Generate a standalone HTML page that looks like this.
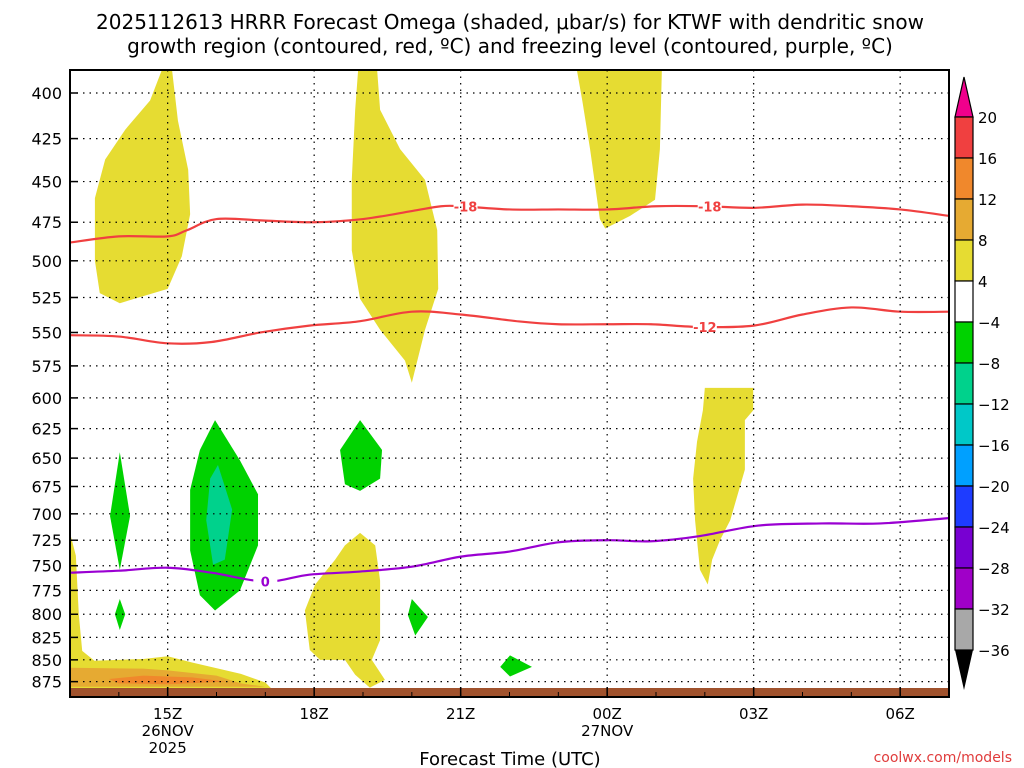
<!DOCTYPE html>
<html><head><meta charset="utf-8"><style>
body{margin:0;background:#fff;}
svg{display:block;font-family:"DejaVu Sans","Liberation Sans",sans-serif;}
</style></head><body>
<svg id="c" width="1024" height="768" viewBox="0 0 1024 768">
<text x="510" y="29" text-anchor="middle" font-size="20">2025112613 HRRR Forecast Omega (shaded, μbar/s) for KTWF with dendritic snow</text>
<text x="510" y="53" text-anchor="middle" font-size="20">growth region (contoured, red, ºC) and freezing level (contoured, purple, ºC)</text>
<g id="plot"></g>
<text x="510" y="765" text-anchor="middle" font-size="18">Forecast Time (UTC)</text>
<text x="1012" y="762" text-anchor="end" font-size="14" fill="#e03c3c">coolwx.com/models</text>
</svg>
<script>
const pLevels=[400,425,450,475,500,525,550,575,600,625,650,675,700,725,750,775,800,825,850,875];
const xTickHours=[15,18,21,24,27,30];
const xTickLabels=[["15Z","26NOV","2025"],["18Z"],["21Z"],["00Z","27NOV"],["03Z"],["06Z"]];
const cbLabels=["20","16","12","8","4","−4","−8","−12","−16","−20","−24","−28","−32","−36"];
const cbColors=["#f04040","#f0882c","#e6aa32","#e6dc32","#ffffff","#00d200","#00d28c","#00c8c8","#00a0ff","#1e3cff","#7800d2","#a000c8","#a8a8a8"];
const line18H=[13,14,15,15.4,16,17,18,19,20,20.6,21,22,23,24,25,26,27,28,29,30,31];
const line18P=[488,484,484,480,473,474,475,473,468,465,465,467,467,467,465,465,466,464,465,467,471];
const line12H=[13,14,15,15.9,16.9,17.9,18.9,20,21,22.2,23,24,24.9,25.9,27,28,29,30,31];
const line12P=[552,553,558,557,550,545,542,535,537,542,544,544,544,546,545,537,532,535,535];
const line0H=[13,14,15,15.9,17,17.9,18.9,20,21,22,23,24,24.9,25.9,27.1,28.4,29.6,31];
const line0P=[757,755,752,757,766,759,756,751,741,736,727,725,726,721,711,709,709,704];
const yellowBlobs=[
[[15.09,388],[15.21,415],[15.42,443],[15.46,470],[15.29,497],[15.0,519],[14.02,529],[13.61,522],[13.51,500],[13.51,460],[13.72,437],[14.13,420],[14.64,404],[14.88,388]],
[[18.9,388],[19.29,388],[19.35,409],[19.76,431],[20.27,449],[20.52,480],[20.54,519],[20.27,548],[20.0,588],[19.86,571],[19.35,548],[18.94,526],[18.77,493],[18.77,449],[18.84,409]],
[[23.38,388],[25.12,388],[25.08,431],[24.98,461],[24.47,471],[23.96,479],[23.85,473],[23.65,431],[23.49,404]],
[[26.0,592],[26.99,592],[26.99,610],[26.82,618],[26.82,660],[26.52,706],[26.31,725],[26.15,744],[26.06,769],[25.9,754],[25.8,706],[25.76,668],[25.84,636],[25.96,610]],
[[18.94,718],[19.25,730],[19.35,765],[19.35,828],[19.18,850],[19.45,873],[19.14,882],[18.84,867],[18.63,850],[18.12,850],[17.91,839],[17.81,796],[18.02,769],[18.43,744],[18.63,730]],
[[13,718],[13.12,740],[13.18,800],[13.25,840],[13.5,851],[14.5,849],[15.0,846],[15.5,853],[16.5,866],[17.0,876],[17.3,893],[13,893]],
[[29.5,893],[29.5,885],[30.3,885],[30.3,893]]
];
const orangeBlobs=[[[13,859],[14.5,860],[15.0,862],[16,868],[16.5,877],[17,881],[13,881]],[[27.2,893],[27.3,884],[28.0,884],[28.2,893]]];
const darkOrangeBlobs=[[[13.8,872],[14.5,868],[15.5,870],[16.2,875],[15,878],[14,877]]];
const greenBlobs=[
[[14.02,645],[14.23,702],[14.02,754],[13.82,702]],
[[14.02,784],[14.13,800],[14.02,817],[13.92,800]],
[[15.97,618],[16.48,652],[16.85,682],[16.85,730],[16.48,775],[15.97,796],[15.66,780],[15.46,735],[15.46,678],[15.66,643]],
[[18.94,618],[19.39,643],[19.35,668],[18.94,679],[18.63,673],[18.53,643]],
[[20.0,784],[20.33,803],[20.07,823],[19.92,801]],
[[22.01,845],[22.46,858],[22.01,869],[21.81,858]]
];
const tealBlobs=[[[16.03,656],[16.32,696],[16.17,744],[15.93,749],[15.79,706],[15.87,668]]];

const X0=70,X1=949,Y0=70,Y1=697,H0=13,H1=31;
const xs=h=>X0+(h-H0)*(X1-X0)/(H1-H0);
const ys=p=>93+752*Math.log(p/400);
const NS="http://www.w3.org/2000/svg";
const svg=document.getElementById('c');
const plot=document.getElementById('plot');
function mk(tag,attrs,parent){const e=document.createElementNS(NS,tag);for(const k in attrs)e.setAttribute(k,attrs[k]);(parent||plot).appendChild(e);return e;}
const clip=mk('clipPath',{id:'clp'},svg);mk('rect',{x:X0,y:Y0,width:X1-X0,height:Y1-Y0},clip);
const g=mk('g',{'clip-path':'url(#clp)'});
function poly(list,color,name){list.forEach(pts=>{const e=mk('polygon',{points:pts.map(q=>xs(q[0])+','+ys(q[1])).join(' '),fill:color},g);

});}
poly(yellowBlobs,cbColors[3],'omega-4-8-region');
poly(orangeBlobs,cbColors[2],'omega-8-12-region');
poly(darkOrangeBlobs,cbColors[1],'omega-12-16-region');
poly(greenBlobs,cbColors[5],'omega-neg4-neg8-region');
poly(tealBlobs,cbColors[6],'omega-neg8-neg12-region');
const ground=mk('rect',{x:X0,y:688,width:X1-X0,height:10,fill:'#a0522d'},g);


pLevels.forEach(p=>{const l=mk('line',{x1:X0,x2:X1,y1:ys(p),y2:ys(p),stroke:'#000','stroke-width':1.2,'stroke-dasharray':'1.5 5'});


mk('line',{x1:X0,x2:X0+8,y1:ys(p),y2:ys(p),stroke:'#000','stroke-width':1.5});
const t=mk('text',{x:62,y:ys(p)+6,'text-anchor':'end','font-size':16});t.textContent=p;

});
xTickHours.forEach((h,i)=>{const l=mk('line',{x1:xs(h),x2:xs(h),y1:Y0,y2:Y1,stroke:'#000','stroke-width':1.2,'stroke-dasharray':'1.5 5'});


mk('line',{x1:xs(h),x2:xs(h),y1:Y1-10,y2:Y1,stroke:'#000','stroke-width':1.5});
xTickLabels[i].forEach((s,j)=>{const t=mk('text',{x:xs(h),y:719+j*17,'text-anchor':'middle','font-size':15});t.textContent=s;

});});
for(let h=H0+1;h<H1;h++){mk('line',{x1:xs(h),x2:xs(h),y1:Y1-5,y2:Y1,stroke:'#000','stroke-width':1});}
function cline(H,P,color,name,labels){
const pts=H.map((h,i)=>[xs(h),ys(P[i])]);
let d='M'+pts[0][0]+','+pts[0][1];
for(let i=0;i<pts.length-1;i++){const p0=pts[Math.max(0,i-1)],p1=pts[i],p2=pts[i+1],p3=pts[Math.min(pts.length-1,i+2)];
d+='C'+(p1[0]+(p2[0]-p0[0])/6)+','+(p1[1]+(p2[1]-p0[1])/6)+' '+(p2[0]-(p3[0]-p1[0])/6)+','+(p2[1]-(p3[1]-p1[1])/6)+' '+p2[0]+','+p2[1];}
const e=mk('path',{d:d,fill:'none',stroke:color,'stroke-width':2.2},g);


labels.forEach(lb=>{let k=0;while(k<H.length-2&&H[k+1]<lb[0])k++;const f=(lb[0]-H[k])/(H[k+1]-H[k]);const p=P[k]+f*(P[k+1]-P[k]);
mk('rect',{x:xs(lb[0])-12,y:ys(p)-7,width:24,height:14,fill:'#fff'},g);
const t=mk('text',{x:xs(lb[0]),y:ys(p)+5,'text-anchor':'middle','font-size':13,'font-weight':'bold',fill:color},g);t.textContent=lb[1];

});}
cline(line18H,line18P,'#f04040','contour-minus18',[[21.1,'-18'],[26.1,'-18']]);
cline(line12H,line12P,'#f04040','contour-minus12',[[26.0,'-12']]);
cline(line0H,line0P,'#9a00d2','freezing-level-0',[[17.0,'0']]);
const fr=mk('rect',{x:X0,y:Y0,width:X1-X0,height:Y1-Y0,fill:'none',stroke:'#000','stroke-width':2});


const CX=955,CW=18,CT=117,CS=41;
const tri=mk('polygon',{points:`${CX},${CT} ${CX+CW},${CT} ${CX+CW/2},${CT-40}`,fill:'#f0008c',stroke:'#000','stroke-width':1.2});


cbColors.forEach((c,i)=>{const r=mk('rect',{x:CX,y:CT+i*CS,width:CW,height:CS,fill:c,stroke:'#000','stroke-width':1.2});

});
const yb=CT+cbColors.length*CS;
const tri2=mk('polygon',{points:`${CX},${yb} ${CX+CW},${yb} ${CX+CW/2},${yb+40}`,fill:'#000'});


cbLabels.forEach((s,i)=>{const t=mk('text',{x:978,y:CT+i*CS+6,'font-size':15});t.textContent=s;

});
</script>
</body></html>
